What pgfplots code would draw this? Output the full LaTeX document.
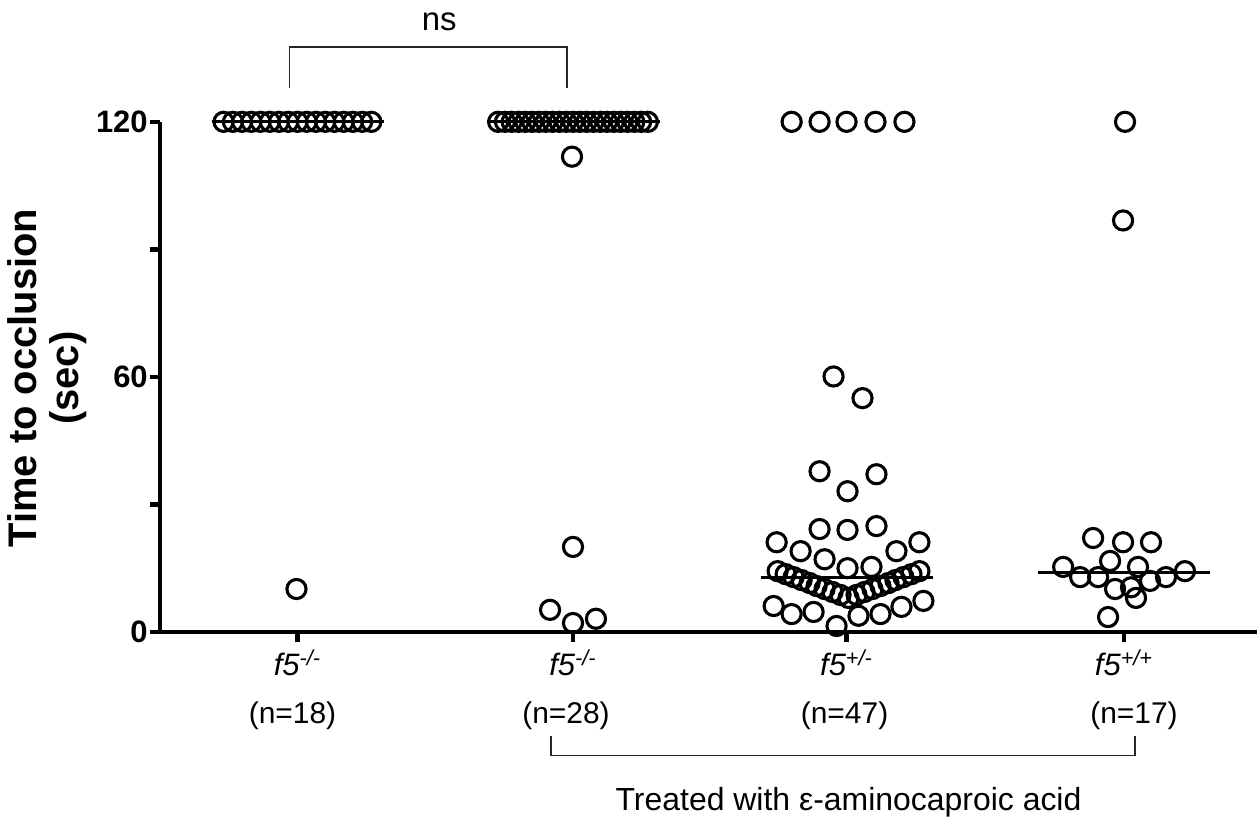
\documentclass[border=0pt]{standalone}
\usepackage{pgfplots}
\pgfplotsset{compat=1.18}
\usepackage{fontspec}
\setmainfont{Liberation Sans}
\begin{document}
\begin{tikzpicture}
\begin{axis}[
  scale only axis, width=549.5pt, height=255.5pt,
  xmin=160, xmax=1259, ymin=0, ymax=120,
  axis lines=left, axis line style={-, line width=2.2pt, black},
  clip=false,
  xtick={298,574,848,1126}, xticklabels={},
  ytick={0,60,120}, yticklabels={0,60,120},
  minor ytick={30,90},
  tick align=outside, major tick length=5pt, minor tick length=5pt,
  tick style={black, line width=2.2pt},
  yticklabel style={font=\bfseries\fontsize{15.5}{17}\selectfont, xshift=2.5pt},
  mymark/.style={only marks, mark=o, mark size=4.8pt, mark options={line width=1.55pt, black}},
]
% median lines
\addplot[black, line width=1.5pt] coordinates {(212,120) (385,120)};
\addplot[black, line width=1.5pt] coordinates {(488,120) (661,120)};
\addplot[black, line width=1.5pt] coordinates {(762,12.9) (935,12.9)};
\addplot[black, line width=1.5pt] coordinates {(1040,14.1) (1212,14.1)};
% group 1: f5 -/- (n=18)
\addplot[mymark] coordinates {
 (224,120) (233.3,120) (242.5,120) (251.8,120) (261,120) (270.3,120) (279.5,120) (288.8,120) (298,120)
 (307.3,120) (316.5,120) (325.8,120) (335,120) (344.3,120) (353.5,120) (362.8,120) (372,120)
 (297,10.1)
};
% group 2: f5 -/- treated (n=28)
\addplot[mymark] coordinates {
 (499,120) (505.8,120) (512.6,120) (519.5,120) (526.3,120) (533.1,120) (539.9,120) (546.7,120) (553.5,120)
 (560.4,120) (567.2,120) (574,120) (580.8,120) (587.6,120) (594.5,120) (601.3,120) (608.1,120) (614.9,120)
 (621.7,120) (628.5,120) (635.4,120) (642.2,120) (649,120)
 (573,111.8) (574,20.0) (551,5.2) (574,2.1) (597,3.1)
};
% group 3: f5 +/- treated (n=47)
\addplot[mymark] coordinates {
 (793,120) (821,120) (848,120) (877,120) (906,120)
 (835,60.1) (864,55.0)
 (821,37.8) (878,37.1) (849,33.1)
 (821,24.2) (849,24.0) (878,24.9)
 (778,21.1) (921,21.1) (802,19.0) (898,19.0) (826,17.1) (849,15.0) (873,15.3)
 (779,14.3) (787,13.6) (795,12.9) (803,12.2) (811,11.5) (818,10.8) (826,10.1) (834,9.4) (842,8.7) (850,8.0)
 (858,8.7) (866,9.4) (874,10.1) (882,10.8) (890,11.5) (897,12.2) (905,12.9) (913,13.6) (921,14.3)
 (775,6.1) (793,4.2) (815,4.7) (838,1.4) (860,3.8) (882,4.2) (903,5.9) (925,7.3)
};
% group 4: f5 +/+ treated (n=17)
\addplot[mymark] coordinates {
 (1127,120) (1125,96.8)
 (1095,22.1) (1125,21.1) (1153,21.1)
 (1065,15.3) (1112,16.7) (1140,15.3) (1187,14.3)
 (1082,12.9) (1100,12.9) (1168,12.9) (1152,12.0)
 (1117,10.1) (1133,10.5) (1138,8.0) (1110,3.5)
};
% brackets
\addplot[black!85, line width=0.8pt] coordinates {(290,128.0) (290,137.6) (568,137.6) (568,128.0)};
\addplot[black!85, line width=0.8pt] coordinates {(552,-24.4) (552,-29.1) (1137,-29.1) (1137,-24.4)};
% texts
\node[anchor=base, font=\fontsize{16.5}{18}\selectfont] at (axis cs:440,141.6) {ns};
\node[anchor=base, font=\fontsize{15.5}{17}\selectfont\itshape] at (axis cs:298,-10.33) {f5\textsuperscript{-/-}};
\node[anchor=base, font=\fontsize{15.5}{17}\selectfont\itshape] at (axis cs:574,-10.33) {f5\textsuperscript{-/-}};
\node[anchor=base, font=\fontsize{15.5}{17}\selectfont\itshape] at (axis cs:848,-10.33) {f5\textsuperscript{+/-}};
\node[anchor=base, font=\fontsize{15.5}{17}\selectfont\itshape] at (axis cs:1126,-10.33) {f5\textsuperscript{+/+}};
\node[anchor=base, font=\fontsize{15}{17}\selectfont] at (axis cs:293,-21.6) {(n=18)};
\node[anchor=base, font=\fontsize{15}{17}\selectfont] at (axis cs:567,-21.6) {(n=28)};
\node[anchor=base, font=\fontsize{15}{17}\selectfont] at (axis cs:846,-21.6) {(n=47)};
\node[anchor=base, font=\fontsize{15}{17}\selectfont] at (axis cs:1136,-21.6) {(n=17)};
\node[anchor=base, font=\fontsize{16}{18}\selectfont] at (axis cs:850,-42.0) {Treated with ε-aminocaproic acid};
\node[rotate=90, align=center, font=\bfseries\fontsize{20}{21}\selectfont] at (axis cs:47,59.7) {Time to occlusion\\(sec)};
% bounding box
\path (axis cs:0,148.66) rectangle (axis cs:1259,-43.92);
\end{axis}
\end{tikzpicture}
\end{document}
